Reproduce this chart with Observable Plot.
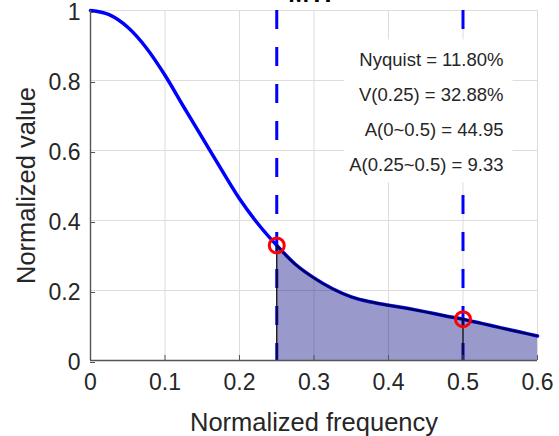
<!DOCTYPE html>
<html>
<head>
<meta charset="utf-8">
<script src="https://cdn.jsdelivr.net/npm/d3@7"></script>
<script src="https://cdn.jsdelivr.net/npm/@observablehq/plot@0.6"></script>
<style>
  body { margin: 0; background: #fff; }
</style>
</head>
<body>
<div id="chart"></div>
<script>
// ---- data ----
const freq = [0, 0.025, 0.05, 0.075, 0.1, 0.125, 0.15, 0.175, 0.2, 0.225, 0.25,
              0.275, 0.3, 0.325, 0.35, 0.375, 0.4, 0.425, 0.45, 0.475, 0.5,
              0.525, 0.55, 0.575, 0.6];
const mtf  = [1.000, 0.988, 0.952, 0.893, 0.815, 0.725, 0.637, 0.548, 0.462, 0.390, 0.3288,
              0.275, 0.236, 0.205, 0.182, 0.168, 0.158, 0.149, 0.139, 0.128, 0.118,
              0.106, 0.094, 0.082, 0.070];
const markFreq  = [0.25, 0.5];
const markValue = [0.3288, 0.118];
const areaStart = 0.25;
const notes = ["Nyquist = 11.80%", "V(0.25) = 32.88%", "A(0~0.5) = 44.95", "A(0.25~0.5) = 9.33"];
const xTicks = [0, 0.1, 0.2, 0.3, 0.4, 0.5, 0.6];
const yTicks = [0, 0.2, 0.4, 0.6, 0.8, 1];
const titleText = "MTF";
const xLabel = "Normalized frequency";
const yLabel = "Normalized value";

// ---- tables built from the arrays ----
const curve = freq.map((f, i) => ({f, v: mtf[i]}));
const tail = curve.filter(d => d.f >= areaStart);
const marked = markFreq.map((f, i) => ({f, v: markValue[i]}));

const ink = "#262626";
const fmt = d => String(d);

const plot = Plot.plot({
  width: 559,
  height: 436,
  marginLeft: 90,
  marginRight: 22,
  marginTop: 10,
  marginBottom: 76,
  style: {fontFamily: "'Liberation Sans', Arial, Helvetica, sans-serif", color: ink, background: "#fff", overflow: "visible"},
  x: {domain: [0, 0.6], label: null},
  y: {domain: [0, 1], label: null},
  marks: [
    Plot.gridX(xTicks.slice(1), {stroke: "#dddddd", strokeOpacity: 1, strokeWidth: 1}),
    Plot.gridY(yTicks.slice(1), {stroke: "#dddddd", strokeOpacity: 1, strokeWidth: 1}),
    Plot.ruleX(markFreq, {stroke: "#0000ff", strokeWidth: 3, strokeDasharray: "19,18"}),
    Plot.line(curve, {x: "f", y: "v", stroke: "#0000ff", strokeWidth: 3.5, curve: "monotone-x"}),
    Plot.areaY(tail, {x: "f", y: "v", fill: "#000080", fillOpacity: 0.4, curve: "monotone-x"}),
    Plot.line(tail, {x: "f", y: "v", stroke: "#000", strokeWidth: 1.2, curve: "monotone-x"}),
    Plot.ruleX(marked, {x: "f", y1: 0, y2: "v", stroke: "#111", strokeWidth: 1.3}),
    Plot.ruleY([0], {stroke: "#555", strokeWidth: 1.4}),
    Plot.ruleX([0], {stroke: "#555", strokeWidth: 1.4}),
    Plot.axisX({ticks: xTicks, tickFormat: fmt, tickSize: -5, tickPadding: 18, fontSize: 23, label: null, stroke: "#555"}),
    Plot.axisY({ticks: yTicks, tickFormat: fmt, tickSize: -5, tickPadding: 15, fontSize: 23, label: null, stroke: "#555", dy: 2}),
    Plot.text([xLabel], {text: d => d, frameAnchor: "bottom", textAnchor: "middle", lineAnchor: "bottom", dy: 70, fontSize: 25.5, fill: ink}),
    Plot.text([yLabel], {text: d => d, frameAnchor: "left", textAnchor: "middle", lineAnchor: "middle", rotate: -90, dx: -64, fontSize: 25.5, fill: ink}),
    Plot.text([notes.join("\n")], {text: d => d, frameAnchor: "top-right", textAnchor: "end", lineAnchor: "top",
      dx: -34, dy: 31, lineHeight: 35 / 18.5, fontSize: 18.5, fill: ink}),
    Plot.dot(marked, {x: "f", y: "v", r: 7.5, stroke: "#ff0000", strokeWidth: 3, fill: "none"}),
    Plot.text([titleText], {text: d => d, frameAnchor: "top", textAnchor: "middle", lineAnchor: "bottom", dy: -9, fontSize: 25, fontWeight: "bold", fill: "#000"})
  ]
});

document.getElementById("chart").appendChild(plot);

// white background box behind the annotation block, sized from the rendered text
const noteText = Array.from(plot.querySelectorAll("text")).find(t => t.textContent.includes("Nyquist"));
if (noteText) {
  const bb = noteText.getBBox();
  const rect = document.createElementNS("http://www.w3.org/2000/svg", "rect");
  rect.setAttribute("x", bb.x - 5);
  rect.setAttribute("y", bb.y - 10);
  rect.setAttribute("width", bb.width + 14);
  rect.setAttribute("height", bb.height + 17);
  rect.setAttribute("fill", "#fff");
  const tf = noteText.getAttribute("transform");
  if (tf) rect.setAttribute("transform", tf);
  noteText.parentNode.insertBefore(rect, noteText);
}
</script>
</body>
</html>
